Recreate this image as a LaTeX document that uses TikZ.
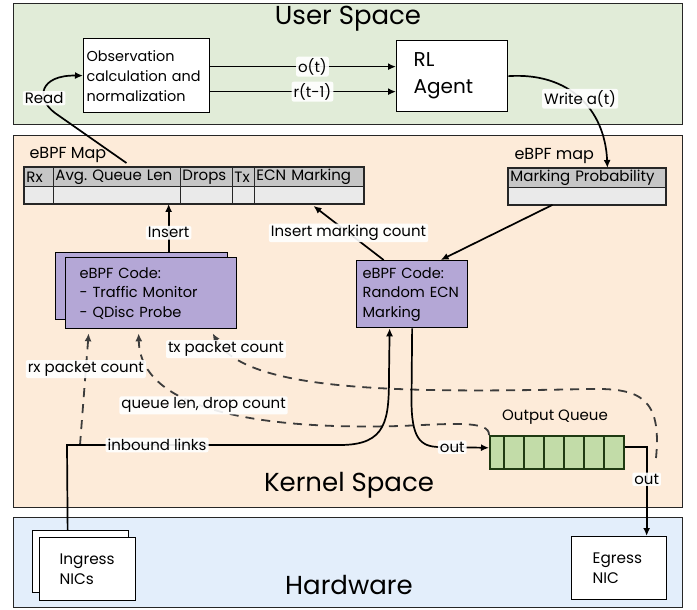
\documentclass[tikz,border=0pt]{standalone}
\usepackage{fontspec}
\setmainfont{Poppins}
\usetikzlibrary{arrows.meta,calc}
\definecolor{usergreen}{HTML}{E1ECD8}
\definecolor{kernelpeach}{HTML}{FDEBD9}
\definecolor{hwblue}{HTML}{E3EEFB}
\definecolor{codepurple}{HTML}{B4A7D6}
\definecolor{hdrgray}{HTML}{C6C6C6}
\definecolor{bodygray}{HTML}{EAEAEA}
\definecolor{queuegreen}{HTML}{C2DCA8}
\definecolor{queueline}{HTML}{1F3A12}
\definecolor{dashgray}{HTML}{3C3C3C}
\frenchspacing
\begin{document}
\begin{tikzpicture}[x=1pt,y=-1pt,
  font=\fontsize{15}{19}\selectfont,
  region/.style={draw=black!85, line width=1.3pt, anchor=north west, inner sep=0pt},
  title/.style={font=\fontsize{26}{28}\selectfont},
  box/.style={draw=black, line width=1.3pt, fill=white, anchor=north west, align=left, inner ysep=0pt},
  code/.style={box, fill=codepurple},
  hdr/.style={draw=black!85, line width=0.9pt, fill=hdrgray, anchor=north west, inner xsep=2pt, inner ysep=0pt, minimum height=19pt, align=left, font=\fontsize{15}{16}\selectfont},
  body/.style={draw=black!85, line width=0.9pt, fill=bodygray, anchor=north west, inner xsep=2pt, inner ysep=0pt, minimum height=17pt, align=left},
  arr/.style={draw=black, line width=1.7pt, -{Latex[length=8pt,width=7pt]}},
  dashedarrow/.style={draw=dashgray, line width=1.8pt, dash pattern=on 9pt off 7pt, -{Latex[length=8pt,width=7pt]}},
  lbl/.style={fill=white, fill opacity=0.9, text opacity=1, rounded corners=2pt, inner xsep=2pt, inner ysep=1.5pt, font=\fontsize{15}{16}\selectfont},
]
\useasboundingbox (0,0) rectangle (697,610);

% regions
\node[region, fill=usergreen, minimum width=669pt, minimum height=121pt] (user) at (13,3) {};
\node[region, fill=kernelpeach, minimum width=669pt, minimum height=372pt] (kernel) at (13,135) {};
\node[region, fill=hwblue, minimum width=669pt, minimum height=90pt] (hw) at (13,517) {};
\node[title] (userT) at (348,19) {User Space};
\node[title] (kernelT) at (349,485) {Kernel Space};
\node[title] (hwT) at (349,585) {Hardware};

% user space boxes
\node[box, inner xsep=3pt, text width=120pt, minimum width=126pt, minimum height=74pt, font=\fontsize{14.4}{20}\selectfont] (obs) at (83,38) {Observation\\calculation and\\normalization};
\node[box, inner xsep=17pt, text width=77pt, minimum width=111pt, minimum height=71pt, font=\fontsize{20}{27}\selectfont] (rl) at (396,40) {RL\\Agent};

% eBPF map (left)
\node[anchor=west, font=\fontsize{16}{18}\selectfont] (mapL) at (26,155) {eBPF Map};
\node[hdr, text width=25pt] (rxH) at (24,167) {Rx};
\node[hdr, text width=123pt] (avgH) at (53,167) {Avg. Queue Len};
\node[hdr, text width=48pt] (dropH) at (180,167) {Drops};
\node[hdr, text width=18pt] (txH) at (232,167) {Tx};
\node[hdr, text width=105pt] (ecnH) at (254,167) {ECN Marking};
\node[body, text width=25pt] (rxB) at (24,186) {};
\node[body, text width=123pt] (avgB) at (53,186) {};
\node[body, text width=48pt] (dropB) at (180,186) {};
\node[body, text width=18pt] (txB) at (232,186) {};
\node[body, text width=105pt] (ecnB) at (254,186) {};
\draw[black!85, line width=1.3pt] (rxH.north west) rectangle (ecnB.south east);

% eBPF map (right)
\node[anchor=west, font=\fontsize{16}{18}\selectfont] (mpL) at (511,156) {eBPF map};
\node[hdr, text width=153pt] (mpH) at (508,168) {Marking Probability};
\node[body, text width=153pt] (mpB) at (508,187) {};
\draw[black!85, line width=1.3pt] (mpH.north west) rectangle (mpB.south east);

% eBPF code boxes
\node[code, minimum width=172pt, minimum height=67pt] (codeBack) at (55,252) {};
\node[code, inner xsep=14pt, text width=143pt, minimum width=171pt, minimum height=71pt, font=\fontsize{14.6}{19.5}\selectfont] (codeFront) at (65,257) {eBPF Code:\\- Traffic Monitor\\- QDisc Probe};
\node[code, inner xsep=6pt, text width=99pt, minimum width=111pt, minimum height=67pt, font=\fontsize{14.6}{19.5}\selectfont] (ecn) at (356,260) {eBPF Code:\\Random ECN\\Marking};

% output queue
\node[anchor=center, font=\fontsize{15}{16}\selectfont] (qL) at (555,417) {Output Queue};
\node[draw=queueline, line width=1.6pt, fill=queuegreen, anchor=north west, minimum width=134pt, minimum height=33pt, inner sep=0pt] (q) at (489,435) {};
\foreach \dx in {15,35,55,75,95,115}
  \draw[queueline, line width=1.6pt] ([xshift=\dx pt]q.north west) -- ([xshift=\dx pt]q.south west);

% hardware boxes
\node[box, minimum width=96pt, minimum height=62pt] (inBack) at (32,530) {};
\node[box, inner xsep=20pt, text width=56pt, minimum width=96pt, minimum height=63pt, font=\fontsize{15.3}{19.5}\selectfont] (inFront) at (39,537) {Ingress\\NICs};
\node[box, inner xsep=21pt, text width=53pt, minimum width=95pt, minimum height=63pt, font=\fontsize{15.3}{19.5}\selectfont] (eg) at (571,536) {Egress\\NIC};

% user-space connectors
\draw[arr] ([yshift=9pt]obs.east) -- ([yshift=9pt]obs.east -| rl.west) node[lbl, pos=0.55] {o(t)};
\draw[arr] ([yshift=-16pt]obs.east) -- ([yshift=-16pt]obs.east -| rl.west) node[lbl, pos=0.55] {r(t-1)};
\draw[arr] ([shift={(9.5pt,4pt)}]avgH.north) -- (55,113) .. controls (35,98) and (40,75) .. (obs.west) node[lbl, pos=0.3] {Read};
\draw[arr] (rl.east) .. controls (570,72) and (605,110) .. ([xshift=20.5pt]mpH.north) node[lbl, pos=0.5] {Write a(t)};

% kernel connectors
\draw[arr] ([xshift=27pt]codeBack.north) -- ([xshift=27pt]codeBack.north |- avgB.south) node[lbl, pos=0.4] {Insert};
\draw[arr] ([xshift=-28.5pt]ecn.north) -- ([xshift=4.5pt,yshift=-2pt]ecnB.south) node[lbl, midway] {Insert marking count};
\draw[arr] ([xshift=-34.5pt]mpB.south) -- ([xshift=28.5pt]ecn.north);

% dashed monitoring arrows
\coordinate (rxS) at (80,445);
\coordinate (txS) at (656,458);
\draw[dashedarrow] (q.north west) .. controls (490,420) and (450,424) .. (400,426) .. controls (260,430) and (140,410) .. ([xshift=-12.5pt,yshift=-4pt]codeFront.south) node[lbl, pos=0.55] {queue len, drop count};
\draw[dashedarrow] (txS) .. controls (662,398) and (640,388) .. (590,389) .. controls (400,393) and (245,392) .. ([xshift=61.5pt,yshift=-4pt]codeFront.south) node[lbl, pos=0.9] {tx packet count};
\draw[dashedarrow] (rxS) -- ([xshift=-62.5pt,yshift=-4pt]codeFront.south) node[lbl, pos=0.68] {rx packet count};

% data path
\draw[arr] ([xshift=-13pt]inBack.north) -- (67,445) -- (340,445) node[lbl, pos=0.33] {inbound links} .. controls (387,445) and (389,420) .. (389,375) -- ([xshift=-22.5pt]ecn.south);
\draw[arr] (ecn.south) -- (411.5,400) .. controls (411.5,438) and (420,447) .. (440,447) -- ([yshift=4.5pt]q.west) node[lbl, pos=0.25] {out};
\draw[arr] ([yshift=5pt]q.east) -| ([xshift=27.5pt]eg.north) node[lbl, pos=0.68] {out};
\end{tikzpicture}
\end{document}
